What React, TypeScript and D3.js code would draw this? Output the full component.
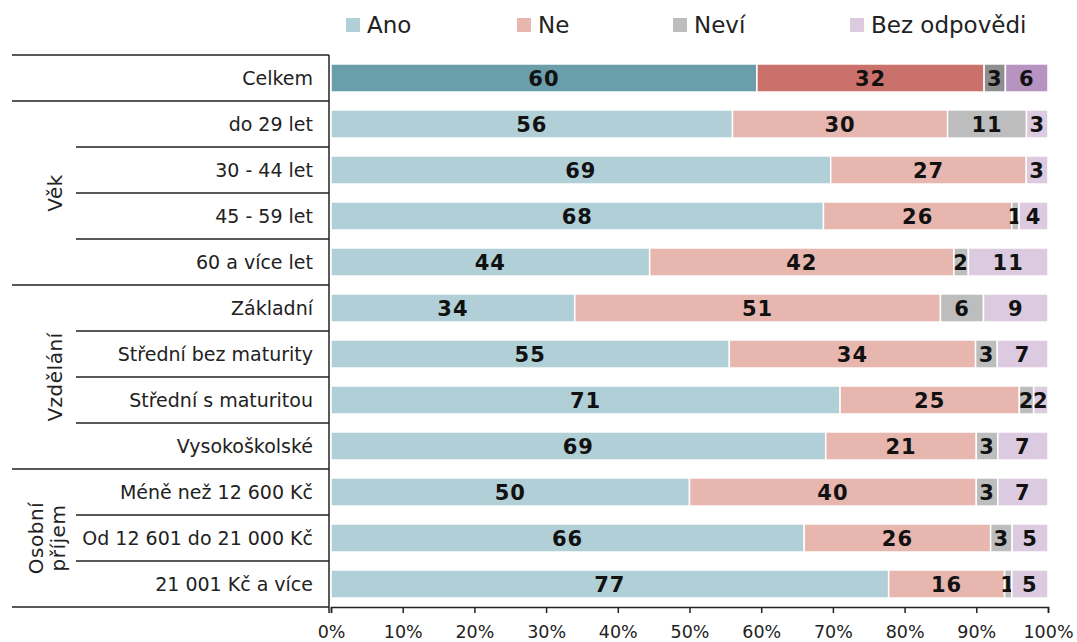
import { useEffect, useRef } from 'react'
import * as d3 from 'd3'

// survey answers, in percent
const series = ['Ano', 'Ne', 'Neví', 'Bez odpovědi']
const rows = [
  'Celkem', 'do 29 let', '30 - 44 let', '45 - 59 let', '60 a více let',
  'Základní', 'Střední bez maturity', 'Střední s maturitou', 'Vysokoškolské',
  'Méně než 12 600 Kč', 'Od 12 601 do 21 000 Kč', '21 001 Kč a více',
]
const ano = [60, 56, 69, 68, 44, 34, 55, 71, 69, 50, 66, 77]
const ne = [32, 30, 27, 26, 42, 51, 34, 25, 21, 40, 26, 16]
const nevi = [3, 11, 0, 1, 2, 6, 3, 2, 3, 3, 3, 1]
const bez = [6, 3, 3, 4, 11, 9, 7, 2, 7, 7, 5, 5]
const groups = [
  { lines: ['Věk'], from: 1, to: 4 },
  { lines: ['Vzdělání'], from: 5, to: 8 },
  { lines: ['Osobní', 'příjem'], from: 9, to: 11 },
]
const xTicks = [0, 0.1, 0.2, 0.3, 0.4, 0.5, 0.6, 0.7, 0.8, 0.9, 1]

const light = ['#b1cfd6', '#e6b6af', '#bdbdbd', '#dccbe0']
const dark = ['#6a9eaa', '#cb716b', '#8e8e8e', '#b693c0']

export default function App() {
  const svgRef = useRef<SVGSVGElement>(null)

  useEffect(() => {
    const W = 1077, H = 642
    const font = '"DejaVu Sans", Verdana, sans-serif'
    const svg = d3.select(svgRef.current)
    svg.selectAll('*').remove()
    svg.attr('width', W).attr('height', H).style('font-family', font)

    const data = rows.map((r, i) => ({ row: r, i, Ano: ano[i], Ne: ne[i], 'Neví': nevi[i], 'Bez odpovědi': bez[i] }))
    const stacked = d3.stack<any>().keys(series).offset(d3.stackOffsetExpand)(data)

    const x = d3.scaleLinear().domain([0, 1]).range([331, 1048])
    const y = d3.scaleBand().domain(rows).range([55, 607]).paddingInner(0.39).paddingOuter(0.195)
    const step = y.step()

    // legend
    const legX = [346, 517, 673, 850]
    series.forEach((s, k) => {
      const g = svg.append('g').attr('transform', `translate(${legX[k]},25)`)
      g.append('rect').attr('x', 0).attr('y', -7).attr('width', 14).attr('height', 14).attr('fill', light[k])
      g.append('text').attr('x', 21).attr('y', 0).attr('dy', '0.35em').attr('font-size', 23).attr('fill', '#222').text(s)
    })

    // bars
    stacked.forEach((layer, k) => {
      layer.forEach((d, i) => {
        const x0 = x(d[0]), x1 = x(d[1])
        if (x1 - x0 <= 0) return
        const yy = y(rows[i])!
        svg.append('rect').attr('x', x0).attr('y', yy).attr('width', x1 - x0).attr('height', y.bandwidth())
          .attr('fill', i === 0 ? dark[k] : light[k]).attr('stroke', '#fff').attr('stroke-width', 1.5)
        const v = (d.data as any)[series[k]]
        if (v > 0) {
          svg.append('text').attr('x', (x0 + x1) / 2).attr('y', yy + y.bandwidth() / 2).attr('dy', '0.37em')
            .attr('text-anchor', 'middle').attr('font-size', 21).attr('letter-spacing', 1).attr('font-weight', 'bold').attr('fill', '#111').text(v)
        }
      })
    })

    // row labels
    rows.forEach(r => {
      svg.append('text').attr('x', 313).attr('y', y(r)! + y.bandwidth() / 2).attr('dy', '0.35em')
        .attr('text-anchor', 'end').attr('font-size', 19).attr('fill', '#222').text(r)
    })

    // table lines
    const top = 55, bottom = 607
    const longY = [top, top + step, top + step * 5, top + step * 9, bottom]
    longY.forEach(v => svg.append('line').attr('x1', 12).attr('x2', 329).attr('y1', v).attr('y2', v).attr('stroke', '#222').attr('stroke-width', 1.5))
    groups.forEach(g => {
      for (let i = g.from + 1; i <= g.to; i++) {
        const v = top + step * i
        svg.append('line').attr('x1', 76).attr('x2', 329).attr('y1', v).attr('y2', v).attr('stroke', '#222').attr('stroke-width', 1.5)
      }
      const cy = top + step * (g.from + g.to + 1) / 2
      const n = g.lines.length
      g.lines.forEach((t, j) => {
        const cx = n === 1 ? 55 : 36 + j * 22
        svg.append('text').attr('transform', `translate(${cx},${cy}) rotate(-90)`).attr('dy', '0.35em')
          .attr('text-anchor', 'middle').attr('font-size', 20).attr('letter-spacing', 0.5).attr('fill', '#222').text(t)
      })
    })
    svg.append('line').attr('x1', 329).attr('x2', 329).attr('y1', top).attr('y2', bottom + 6).attr('stroke', '#222').attr('stroke-width', 1.5)

    // x axis
    const ax = svg.append('g').attr('transform', `translate(0,${bottom})`)
      .call(d3.axisBottom(x).tickValues(xTicks).tickSize(6).tickSizeOuter(6).tickFormat(d3.format('.0%')))
    ax.select('.domain').attr('stroke', '#222').attr('stroke-width', 1.5)
    ax.selectAll('.tick line').attr('stroke', '#222').attr('stroke-width', 1.5)
    ax.selectAll('.tick text').attr('font-size', 17.5).attr('font-family', font).attr('fill', '#222').attr('dy', '1.25em')
  }, [])

  return (
    <div style={{ position: 'absolute', left: 0, top: 0 }}>
      <svg ref={svgRef} />
    </div>
  )
}
